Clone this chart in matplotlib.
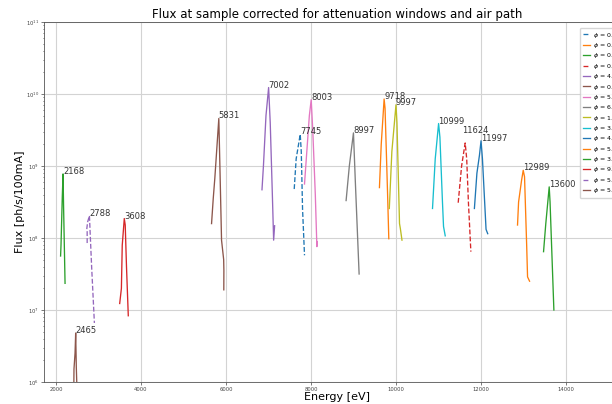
##### Flux at sample, tuning curves per harmonic #####
import numpy as np
import matplotlib
matplotlib.use('Agg')
import matplotlib.pyplot as plt

# Peak energies (used as annotation text) in legend order
peaks = [7745, 9718, 2168, 11624, 7002, 5831, 8003, 8997, 9997, 10999,
         11997, 12989, 13600, 3608, 2788, 2465]

# Legend labels (angle phi), text is cut by the figure edge
phi_labels = ['0.12', '0.47', '0.85', '0.31', '4.26', '0.66', '5.08', '6.13',
              '1.94', '3.72', '4.41', '5.57', '3.39', '9.02', '5.81', '5.35']

# Energy scan points [eV] for each curve
E_7745 = [7604, 7650, 7745, 7770, 7800, 7846]
E_9718 = [9608, 9650, 9718, 9740, 9800, 9828]
E_2168 = [2110, 2120, 2150, 2168, 2180, 2215]
E_11624 = [11460, 11540, 11624, 11660, 11700, 11758]
E_7002 = [6846, 6880, 6940, 7002, 7040, 7090, 7120, 7143]
E_5831 = [5660, 5700, 5737, 5831, 5860, 5895, 5945, 5950, 5948]
E_8003 = [7846, 7900, 7960, 8003, 8040, 8100, 8137, 8140]
E_8997 = [8824, 8900, 8997, 9040, 9130]
E_9997 = [9840, 9900, 9997, 10020, 10080, 10100, 10138]
E_10999 = [10856, 10920, 10999, 11030, 11090, 11115, 11155]
E_11997 = [11841, 11900, 11960, 11997, 12030, 12115, 12154]
E_12989 = [12855, 12880, 12950, 12989, 13020, 13070, 13091, 13138]
E_13600 = [13467, 13520, 13600, 13620, 13680, 13710]
E_3608 = [3500, 3540, 3560, 3608, 3630, 3660, 3702]
E_2788 = [2735, 2735, 2725, 2745, 2788, 2840, 2905]
E_2465 = [2420, 2425, 2450, 2465, 2480, 2500]

# log10 of flux [ph/s/100mA] at those points
L_7745 = [8.68, 9.10, 9.44, 9.20, 8.40, 7.76]
L_9718 = [8.70, 9.30, 9.93, 9.80, 8.60, 7.99]
L_2168 = [7.75, 7.90, 8.57, 8.89, 8.45, 7.37]
L_11624 = [8.49, 9.00, 9.32, 9.10, 8.50, 7.81]
L_7002 = [8.67, 9.00, 9.70, 10.09, 9.60, 8.60, 7.97, 8.17]
L_5831 = [8.20, 8.55, 8.83, 9.66, 8.90, 7.97, 7.70, 7.55, 7.28]
L_8003 = [8.75, 9.20, 9.70, 9.92, 9.50, 8.60, 7.88, 7.95]
L_8997 = [8.52, 9.00, 9.46, 8.80, 7.50]
L_9997 = [8.41, 9.20, 9.85, 9.60, 8.20, 8.13, 7.97]
L_10999 = [8.41, 9.10, 9.59, 9.40, 8.50, 8.16, 8.03]
L_11997 = [8.41, 8.90, 9.15, 9.35, 9.10, 8.12, 8.06]
L_12989 = [8.18, 8.50, 8.80, 8.94, 8.85, 7.90, 7.46, 7.40]
L_13600 = [7.81, 8.20, 8.71, 8.50, 7.50, 7.00]
L_3608 = [7.09, 7.30, 7.90, 8.27, 8.18, 7.60, 6.92]
L_2788 = [7.93, 8.10, 8.12, 8.22, 8.31, 7.60, 6.82]
L_2465 = [5.85, 6.18, 6.40, 6.68, 6.20, 5.80]

energies = [E_7745, E_9718, E_2168, E_11624, E_7002, E_5831, E_8003, E_8997,
            E_9997, E_10999, E_11997, E_12989, E_13600, E_3608, E_2788, E_2465]
logflux = [L_7745, L_9718, L_2168, L_11624, L_7002, L_5831, L_8003, L_8997,
           L_9997, L_10999, L_11997, L_12989, L_13600, L_3608, L_2788, L_2465]
styles = ['--', '-', '-', '--', '-', '-', '-', '-', '-', '-', '-', '-', '-', '-', '--', '-']

fig = plt.figure(figsize=(6.12, 4.04), dpi=100)
ax = fig.add_axes([44/612, 0.0545, 586/612, 0.891])   # axes run past the right edge (cropped figure)

for i in range(len(energies)):
    flux = 10**np.array(logflux[i])
    ax.plot(energies[i], flux, styles[i], lw=0.95,
            label=r'$\phi$ = ' + phi_labels[i] + ' mrad')
    k = int(np.argmax(flux))
    off = (-2, 7) if peaks[i] == 11624 else (0, 0)          # label sits above the dashed peak
    ax.annotate(str(peaks[i]), (energies[i][k], flux[k]), xytext=off,
                textcoords='offset points', fontsize=6, color='#333333')

ax.set_yscale('log')
ax.set_ylim(1e6, 1e11)
ax.set_xlim(1720, 15500)
ax.grid(True, color='#d3d3d3', lw=0.8)
ax.tick_params(labelsize=3.8, length=2, width=0.5, pad=1.5, colors='#444444')
ax.tick_params(which='minor', length=1, width=0.4)
for s in ax.spines.values():
    s.set_linewidth(0.6)
    s.set_color('#555555')

ax.set_title('Flux at sample corrected for attenuation windows and air path', fontsize=8.5, pad=3)
ax.set_xlabel('Energy [eV]', fontsize=8, labelpad=0)
ax.set_ylabel('Flux [ph/s/100mA]', fontsize=8, labelpad=1)

leg = ax.legend(loc='upper left', bbox_to_anchor=(577/612, 1 - 25/404),
                bbox_transform=fig.transFigure, fontsize=4.5, handlelength=1.1,
                handletextpad=0.6, labelspacing=0.22, borderpad=0.4, framealpha=0.8,
                edgecolor='#cccccc', fancybox=True)

plt.savefig('out.png', dpi=100)
plt.close(None)
